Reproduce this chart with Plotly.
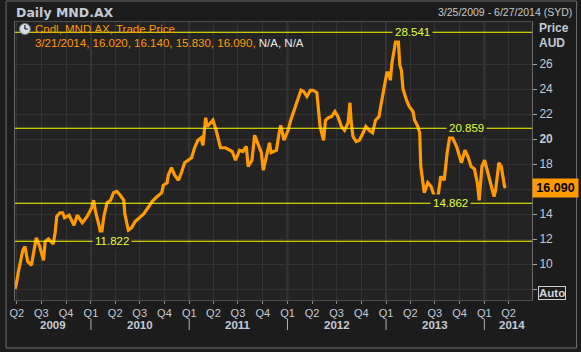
import plotly.graph_objects as go

# ---------------- data ----------------
dates = [
    "2009-03-25", "2009-03-30", "2009-04-06", "2009-04-15", "2009-04-23", "2009-05-01", "2009-05-11",
    "2009-05-25", "2009-06-05", "2009-06-12", "2009-06-25", "2009-07-09", "2009-07-15", "2009-07-27",
    "2009-08-14", "2009-08-21", "2009-08-27", "2009-09-08", "2009-09-18", "2009-09-25", "2009-10-12",
    "2009-10-30", "2009-11-11", "2009-11-30", "2009-12-18", "2010-01-04", "2010-01-11", "2010-01-18",
    "2010-02-01", "2010-02-08", "2010-02-18", "2010-03-02", "2010-03-15", "2010-03-26", "2010-04-07",
    "2010-04-20", "2010-05-03", "2010-05-07", "2010-05-20", "2010-06-01", "2010-06-14", "2010-07-02",
    "2010-07-16", "2010-08-04", "2010-08-16", "2010-08-30", "2010-09-21", "2010-09-27", "2010-10-11",
    "2010-10-15", "2010-10-27", "2010-11-08", "2010-11-22", "2010-12-03", "2010-12-15", "2011-01-10",
    "2011-01-21", "2011-02-02", "2011-02-14", "2011-02-21", "2011-03-03", "2011-03-09", "2011-03-21",
    "2011-03-30", "2011-04-11", "2011-04-19", "2011-04-27", "2011-05-16", "2011-05-30", "2011-06-10",
    "2011-06-22", "2011-07-07", "2011-07-19", "2011-08-01", "2011-08-08", "2011-08-22", "2011-09-01",
    "2011-09-13", "2011-09-26", "2011-10-03", "2011-10-13", "2011-10-26", "2011-11-01", "2011-11-21",
    "2011-12-01", "2011-12-07", "2011-12-19", "2012-01-03", "2012-01-13", "2012-01-25", "2012-02-06",
    "2012-02-20", "2012-03-01", "2012-03-13", "2012-03-26", "2012-04-05", "2012-04-19", "2012-04-25",
    "2012-05-01", "2012-05-14", "2012-05-21", "2012-06-01", "2012-06-13", "2012-06-25", "2012-07-06",
    "2012-07-19", "2012-07-31", "2012-08-13", "2012-08-20", "2012-08-24", "2012-08-31", "2012-09-12",
    "2012-09-24", "2012-10-08", "2012-10-18", "2012-10-30", "2012-11-12", "2012-11-23", "2012-12-06",
    "2012-12-12", "2012-12-24", "2013-01-04", "2013-01-11", "2013-01-17", "2013-01-23", "2013-01-29",
    "2013-02-04", "2013-02-07", "2013-02-14", "2013-02-21", "2013-02-27", "2013-03-05", "2013-03-18",
    "2013-03-28", "2013-04-11", "2013-04-17", "2013-04-29", "2013-05-06", "2013-05-10", "2013-05-17",
    "2013-05-23", "2013-06-05", "2013-06-17", "2013-06-28", "2013-07-11", "2013-07-23", "2013-08-05",
    "2013-08-16", "2013-08-28", "2013-09-09", "2013-09-20", "2013-10-08", "2013-10-21", "2013-11-01",
    "2013-11-13", "2013-11-25", "2013-12-06", "2013-12-13", "2013-12-23", "2014-01-02", "2014-01-14",
    "2014-01-24", "2014-02-06", "2014-02-12", "2014-02-24", "2014-03-05", "2014-03-12", "2014-03-17",
    "2014-03-21",
]
closes = [
    8.0, 8.4, 9.3, 10.3, 11.1, 11.4, 10.2,
    9.9, 11.1, 12.1, 11.4, 10.3, 11.8, 12.0,
    11.6, 12.5, 13.8, 14.1, 14.1, 13.7, 13.9,
    13.1, 13.9, 13.3, 13.8, 14.5, 15.1, 14.2,
    13.0, 12.2, 13.8, 14.9, 15.1, 15.7, 15.8,
    15.5, 15.1, 14.0, 12.7, 12.9, 13.4, 13.7,
    14.0, 14.6, 15.0, 15.3, 15.7, 16.3, 16.5,
    17.1, 17.7, 17.1, 16.7, 17.3, 18.1, 18.5,
    19.3, 19.9, 20.1, 19.5, 21.7, 21.0, 21.3,
    21.5, 20.7, 19.9, 19.3, 19.3, 19.1, 19.0,
    18.3, 19.1, 19.0, 19.4, 17.8, 18.3, 20.3,
    19.7, 18.9, 17.5, 18.6, 19.7, 18.9, 19.1,
    20.5, 21.1, 19.9, 20.7, 21.5, 22.3, 23.0,
    23.9, 23.8, 23.4, 23.9, 23.9, 23.7, 22.6,
    21.0, 19.9, 21.5, 21.7, 21.8, 22.2, 21.8,
    21.0, 20.7, 21.3, 22.9, 21.5, 20.2, 19.8,
    19.9, 20.5, 21.0, 20.7, 20.5, 21.5, 21.8,
    22.6, 24.2, 25.3, 25.3, 24.7, 26.1, 27.0,
    27.9, 28.0, 28.5, 25.9, 25.5, 24.0, 23.1,
    22.6, 22.2, 21.5, 21.0, 20.5, 17.8, 16.7,
    15.7, 16.5, 16.2, 15.5, 15.1, 17.0, 16.7,
    18.9, 20.5, 19.9, 19.4, 18.1, 19.1, 18.6,
    17.8, 17.6, 16.5, 15.1, 17.8, 18.3, 17.3,
    16.5, 15.4, 15.9, 18.1, 17.8, 16.7, 16.2,
    16.09,
]

level_values = [28.541, 20.859, 14.862, 11.822]
level_labels = ["28.541", "20.859", "14.862", "11.822"]
level_label_dates = ["2013-04-08", "2013-10-27", "2013-08-27", "2010-03-20"]

quarter_dates = [
    "2009-04-01", "2009-07-01", "2009-10-01",
    "2010-01-01", "2010-04-01", "2010-07-01", "2010-10-01",
    "2011-01-01", "2011-04-01", "2011-07-01", "2011-10-01",
    "2012-01-01", "2012-04-01", "2012-07-01", "2012-10-01",
    "2013-01-01", "2013-04-01", "2013-07-01", "2013-10-01",
    "2014-01-01", "2014-04-01",
]
quarter_labels = ["Q2", "Q3", "Q4"] + ["Q1", "Q2", "Q3", "Q4"] * 4 + ["Q1", "Q2"]

year_labels = ["2009", "2010", "2011", "2012", "2013", "2014"]
year_label_dates = ["2009-08-12", "2010-07-02", "2011-07-02", "2012-07-02", "2013-07-02", "2014-04-14"]
year_starts = ["2010-01-01", "2011-01-01", "2012-01-01", "2013-01-01", "2014-01-01"]

y_ticks = [8, 10, 12, 14, 16, 18, 20, 22, 24, 26]
y_ticktext = ["", "10", "12", "14", "", "18", "<b>20</b>", "22", "24", "26"]

last_price = 16.090
x_range = ["2009-03-25", "2014-06-27"]
y_range = [7.12, 29.36]

# ---------------- style ----------------
ORANGE = "#ff9a00"
TXT = "#c3cad6"
PLOT_BG = "#232323"
PANEL_BG = "#1c1c1c"
GRID = "#333333"
FONT = "Liberation Sans, Arial, sans-serif"

W, H = 581, 352
L, R, T, B = 10, 49, 22, 52
PW, PH = W - L - R, H - T - B


def px(p):
    return (p - L) / PW


def py(q):
    return (H - B - q) / PH


fig = go.Figure()
fig.add_trace(go.Scatter(
    x=dates, y=closes, mode="lines",
    line=dict(color=ORANGE, width=3.2), hoverinfo="skip", showlegend=False,
))

shapes = []
# outer panel frame
shapes.append(dict(type="rect", xref="paper", yref="paper", x0=px(1), x1=px(577), y0=py(348), y1=py(1),
                   line=dict(color="#6e6e6e", width=1), fillcolor="rgba(0,0,0,0)", layer="below"))
# year boundary gridlines (slightly stronger)
for d in year_starts:
    shapes.append(dict(type="line", xref="x", yref="paper", x0=d, x1=d, y0=0, y1=1,
                       line=dict(color="#383838", width=2), layer="below"))
    # separators in the year row
    shapes.append(dict(type="line", xref="x", yref="paper", x0=d, x1=d, y0=py(330), y1=py(319),
                       line=dict(color="#b0b0b0", width=1)))
# level lines
for v in level_values:
    shapes.append(dict(type="line", xref="paper", yref="y", x0=0, x1=1, y0=v, y1=v,
                       line=dict(color="#ffff00", width=1.2)))
# clock icon
shapes.append(dict(type="circle", xref="paper", yref="paper", x0=px(14.5), x1=px(25.5), y0=py(34.5), y1=py(23.5),
                   fillcolor="#d8dce4", line=dict(color="#7a7f88", width=1)))
shapes.append(dict(type="line", xref="paper", yref="paper", x0=px(20), x1=px(20), y0=py(29), y1=py(25),
                   line=dict(color="#222222", width=1.2)))
shapes.append(dict(type="line", xref="paper", yref="paper", x0=px(20), x1=px(23), y0=py(29), y1=py(29),
                   line=dict(color="#222222", width=1.2)))

ann = []
for v, lab, d in zip(level_values, level_labels, level_label_dates):
    ann.append(dict(x=d, y=v, xref="x", yref="y", text=lab, showarrow=False,
                    font=dict(family=FONT, size=11.5, color="#e2ff3a"),
                    bgcolor=PLOT_BG, borderpad=2, xanchor="center", yanchor="middle"))
for lab, d in zip(year_labels, year_label_dates):
    ann.append(dict(x=d, y=py(325), xref="x", yref="paper", text="<b>" + lab + "</b>", showarrow=False,
                    font=dict(family=FONT, size=11.5, color=TXT), xanchor="center", yanchor="middle"))
# title and range
ann.append(dict(x=px(9), y=py(12), xref="paper", yref="paper", text="<b>Daily MND.AX</b>", showarrow=False,
                font=dict(family="DejaVu Sans, sans-serif", size=12.5, color=TXT), xanchor="left", yanchor="middle"))
ann.append(dict(x=px(574), y=py(12), xref="paper", yref="paper", text="3/25/2009 - 6/27/2014 (SYD)",
                showarrow=False, font=dict(family=FONT, size=10.5, color="#c8c8c8"),
                xanchor="right", yanchor="middle"))
# legend lines
ann.append(dict(x=px(28), y=py(29), xref="paper", yref="paper", text="Cndl, MND.AX, Trade Price",
                showarrow=False, font=dict(family=FONT, size=11.5, color=ORANGE),
                xanchor="left", yanchor="middle"))
ann.append(dict(x=px(28), y=py(43), xref="paper", yref="paper",
                text="3/21/2014, 16.020, 16.140, 15.830, 16.090, <span style='color:#e8e8e8'>N/A, N/A</span>",
                showarrow=False, font=dict(family=FONT, size=11.5, color=ORANGE),
                xanchor="left", yanchor="middle"))
# axis unit labels
ann.append(dict(x=px(537), y=py(28), xref="paper", yref="paper", text="<b>Price</b>", showarrow=False,
                font=dict(family=FONT, size=12, color=TXT), xanchor="left", yanchor="middle"))
ann.append(dict(x=px(537), y=py(43), xref="paper", yref="paper", text="<b>AUD</b>", showarrow=False,
                font=dict(family=FONT, size=12, color=TXT), xanchor="left", yanchor="middle"))
# last price box
ann.append(dict(x=1, y=last_price, xref="paper", yref="y", text="<b>%.3f</b>" % last_price, showarrow=False,
                font=dict(family=FONT, size=12.5, color="#000000"), bgcolor=ORANGE, borderpad=2,
                xanchor="left", yanchor="middle", width=41, align="center"))
# Auto box
ann.append(dict(x=px(552), y=py(293), xref="paper", yref="paper", text="<b>Auto</b>", showarrow=False,
                font=dict(family=FONT, size=11.5, color="#d0d4dc"), bgcolor=PANEL_BG,
                bordercolor="#cfcfcf", borderwidth=1, borderpad=0, xanchor="center", yanchor="middle"))

fig.update_layout(
    width=W, height=H, autosize=False,
    margin=dict(l=L, r=R, t=T, b=B, pad=0),
    paper_bgcolor=PANEL_BG, plot_bgcolor=PLOT_BG,
    showlegend=False, hovermode=False,
    shapes=shapes, annotations=ann,
    xaxis=dict(
        type="date", range=x_range, tickmode="array", tickvals=quarter_dates, ticktext=quarter_labels,
        tickfont=dict(family=FONT, size=11, color=TXT), ticks="outside", ticklen=3, tickcolor="#8a8a8a",
        showgrid=True, gridcolor=GRID, gridwidth=1, zeroline=False,
        showline=True, linecolor="#4e4e4e", mirror=True, fixedrange=True,
    ),
    yaxis=dict(
        side="right", range=y_range, tickmode="array", tickvals=y_ticks, ticktext=y_ticktext,
        tickfont=dict(family=FONT, size=12, color=TXT), ticks="outside", ticklen=4, tickcolor="#a0a0a0",
        showgrid=True, gridcolor=GRID, gridwidth=1, zeroline=False,
        showline=True, linecolor="#6a6a6a", mirror=True, fixedrange=True,
    ),
)

fig.write_html("out.html")
